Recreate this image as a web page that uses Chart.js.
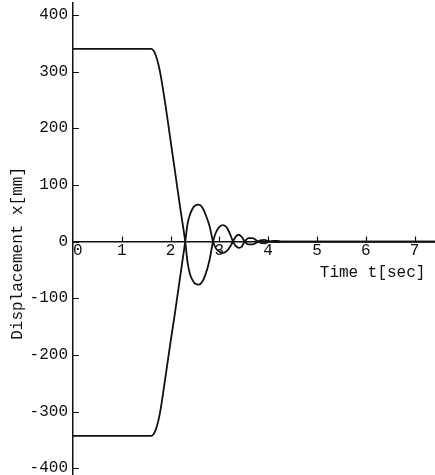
<!DOCTYPE html>
<html>
<head>
<meta charset="utf-8">
<script src="https://cdn.jsdelivr.net/npm/chart.js@4.4.1/dist/chart.umd.min.js"></script>
<style>
  html, body { margin: 0; padding: 0; background: #fff; }
  #wrap { width: 435px; height: 475px; }
</style>
</head>
<body>
<div id="wrap"><canvas id="chart"></canvas></div>
<script>
// time axis in seconds
const timeSec = [0, 1.6, 1.65, 1.7, 1.75, 1.8, 1.9, 2.0, 2.1, 2.2, 2.3, 2.35, 2.4, 2.45, 2.5, 2.58, 2.65, 2.72, 2.8, 2.87,
  2.93, 3.0, 3.08, 3.15, 3.22, 3.28, 3.34, 3.4, 3.46, 3.52, 3.6, 3.68, 3.76, 3.84, 3.92, 4.0, 4.1, 4.2, 4.3, 4.5, 7.42]

// displacement starting from the top plateau [mm]
const upperStart = [340, 340, 337, 328, 313, 292, 238, 178, 118, 58, 0, -38, -58, -68, -74, -76, -71, -57, -32, 0,
  16, 26, 29, 25, 13, 0, -8, -11, -9, 0, 6, 6, 2, -2, -3, -1, 1, 1, 0, 0, 0]

// displacement starting from the bottom plateau [mm]
const lowerStart = [-343, -343, -340, -331, -316, -294, -236, -177, -120, -60, 0, 32, 48, 58, 63, 65, 60, 47, 27, 0,
  -12, -18, -20, -17, -9, 0, 9, 12, 8, 0, -5, -5, -2, 2, 3, 1, -1, -1, 0, 0, 0]

const xTicks = [0, 1, 2, 3, 4, 5, 6, 7]
const yTicks = [-400, -300, -200, -100, 0, 100, 200, 300, 400]

const monoFont = "'Liberation Mono', 'DejaVu Sans Mono', monospace"

function toPoints(values) {
  return timeSec.map((t, i) => ({ x: t, y: values[i] }))
}

// small tick marks drawn inward from the axes
const innerTicks = {
  id: "innerTicks",
  afterDraw(chart) {
    const { ctx, scales: { x, y } } = chart
    const y0 = y.getPixelForValue(0)
    const x0 = x.getPixelForValue(0)
    ctx.save()
    ctx.strokeStyle = "#111"
    ctx.lineWidth = 1.2
    ctx.beginPath()
    xTicks.forEach(v => {
      if (v === 0) return
      const px = Math.round(x.getPixelForValue(v)) + 0.5
      ctx.moveTo(px, y0)
      ctx.lineTo(px, y0 - 5)
    })
    yTicks.forEach(v => {
      const py = Math.round(y.getPixelForValue(v)) + 0.5
      ctx.moveTo(x0, py)
      ctx.lineTo(x0 + 6, py)
    })
    ctx.stroke()
    ctx.restore()
  }
}

const ctx = document.getElementById("chart").getContext("2d")

new Chart(ctx, {
  type: "line",
  data: {
    datasets: [
      {
        label: "upper",
        data: toPoints(upperStart),
        borderColor: "#111",
        borderWidth: 1.8,
        pointRadius: 0,
        cubicInterpolationMode: "monotone",
        fill: false
      },
      {
        label: "lower",
        data: toPoints(lowerStart),
        borderColor: "#111",
        borderWidth: 1.8,
        pointRadius: 0,
        cubicInterpolationMode: "monotone",
        fill: false
      }
    ]
  },
  plugins: [innerTicks],
  options: {
    responsive: true,
    maintainAspectRatio: false,
    animation: false,
    layout: {
      padding: { top: 3, right: 0, left: 0, bottom: -45 }
    },
    plugins: {
      legend: { display: false },
      tooltip: { enabled: false }
    },
    scales: {
      x: {
        type: "linear",
        position: { y: 0 },
        min: 0,
        max: 7.42,
        afterFit: scale => {
          scale.height = 46
          scale.paddingLeft = 0
          scale.paddingRight = 0
        },
        grid: { display: false, drawTicks: false },
        border: { display: true, color: "#111", width: 1.5 },
        ticks: {
          stepSize: 1,
          includeBounds: false,
          padding: 0,
          color: "#111",
          font: { family: monoFont, size: 16 },
          callback: value => (value === 0 ? " 0" : Number.isInteger(value) ? String(value) : "")
        },
        title: {
          display: true,
          text: "Time t[sec] ",
          align: "end",
          color: "#111",
          font: { family: monoFont, size: 16 },
          padding: { top: 0, bottom: 5 }
        }
      },
      y: {
        type: "linear",
        min: -412,
        max: 421,
        afterFit: scale => {
          scale.width = 73
          scale.paddingTop = 0
          scale.paddingBottom = 0
        },
        grid: { display: false, drawTicks: false },
        border: { display: true, color: "#111", width: 1.5 },
        ticks: {
          stepSize: 100,
          includeBounds: false,
          padding: 5,
          color: "#111",
          font: { family: monoFont, size: 16 }
        },
        title: {
          display: true,
          text: "Displacement x[mm]   ",
          color: "#111",
          font: { family: monoFont, size: 16 },
          padding: { top: 8, bottom: 0 }
        }
      }
    }
  }
})
</script>
</body>
</html>
